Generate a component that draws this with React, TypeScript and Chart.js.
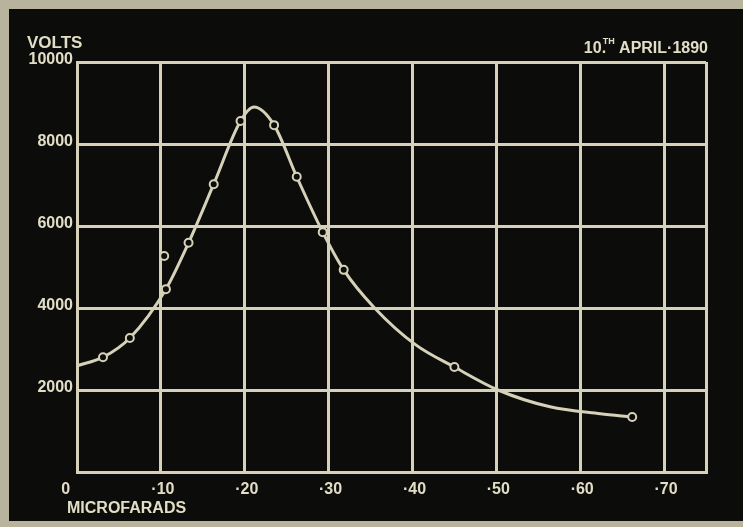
import React, { useEffect, useRef } from 'react';
import { Chart, registerables } from 'chart.js';

Chart.register(...registerables);

// Smooth hand-drawn curve (microfarads in hundredths, volts)
const curveX = [0, 3.1, 6.3, 10.6, 13.3, 16.3, 19.5, 21.1, 23.5, 26.2, 29.3, 31.8, 35.4, 40.4, 45, 50.2, 56.4, 62.4, 66.2];
const curveV = [2590, 2800, 3270, 4460, 5590, 7020, 8560, 8900, 8460, 7200, 5850, 4930, 4020, 3100, 2560, 2000, 1590, 1420, 1340];

// Observed points (small open circles)
const pointX = [3.1, 6.3, 10.6, 10.4, 13.3, 16.3, 19.5, 23.5, 26.2, 29.3, 31.8, 45, 66.2];
const pointV = [2800, 3270, 4460, 5270, 5590, 7020, 8560, 8460, 7200, 5850, 4930, 2560, 1340];

const xTicks = [0, 10, 20, 30, 40, 50, 60, 70, 75];
const xTickLabels = ['0\u2007\u2007\u2007', '·10', '·20', '·30', '·40', '·50', '·60', '·70', ''];
const yTicks = [0, 2000, 4000, 6000, 8000, 10000];
const yTickLabels = ['', '2000', '4000', '6000', '8000', '10000'];

const yTitle = 'VOLTS';
const xTitle = 'MICROFARADS';
const dateDay = '10';
const dateSup = 'TH';
const dateRest = ' APRIL·1890';

const FONT = '"Liberation Sans", Arial, sans-serif';
const INK = '#e2dec6';
const GRID = '#d6d2b9';
const BG = '#0c0c0a';

export default function App() {
  const ref = useRef<HTMLCanvasElement>(null);

  useEffect(() => {
    if (!ref.current) return;
    const framePlugin = {
      id: 'frame',
      beforeDraw(chart: any) {
        const ctx = chart.ctx;
        ctx.save();
        ctx.fillStyle = '#b7b39c';
        ctx.fillRect(0, 0, chart.width, chart.height);
        ctx.fillStyle = BG;
        ctx.fillRect(9, 9, chart.width - 9, chart.height - 15);
        ctx.restore();
      },
      afterDraw(chart: any) {
        const ctx = chart.ctx;
        ctx.save();
        ctx.fillStyle = INK;
        ctx.textBaseline = 'alphabetic';
        ctx.textAlign = 'left';
        ctx.font = `bold 17px ${FONT}`;
        ctx.fillText(yTitle, 27, 48);
        ctx.font = `bold 16px ${FONT}`;
        ctx.fillText(xTitle, 67, 513);
        // date
        ctx.font = `bold 16px ${FONT}`;
        const wDay = ctx.measureText(dateDay).width;
        const wRest = ctx.measureText(dateRest).width;
        ctx.font = `bold 9px ${FONT}`;
        const wSup = ctx.measureText(dateSup).width;
        const right = 708;
        const x0 = right - wRest - wSup - wDay - 1;
        ctx.font = `bold 16px ${FONT}`;
        ctx.fillText(dateDay, x0, 53);
        ctx.fillText('.', x0 + wDay, 53);
        ctx.font = `bold 9px ${FONT}`;
        ctx.fillText(dateSup, x0 + wDay + 1, 44);
        ctx.font = `bold 16px ${FONT}`;
        ctx.fillText(dateRest, x0 + wDay + wSup + 1, 53);
        ctx.restore();
      },
    };

    const chart = new Chart(ref.current, {
      type: 'scatter',
      data: {
        datasets: [
          {
            type: 'scatter',
            label: 'observations',
            data: pointX.map((x, i) => ({ x, y: pointV[i] })),
            pointRadius: 4,
            pointBorderWidth: 2,
            pointBorderColor: GRID,
            pointBackgroundColor: BG,
            order: 0,
          },
          {
            type: 'line',
            label: 'curve',
            data: curveX.map((x, i) => ({ x, y: curveV[i] })),
            borderColor: GRID,
            borderWidth: 3,
            pointRadius: 0,
            cubicInterpolationMode: 'monotone',
            fill: false,
            order: 1,
          } as any,
        ],
      },
      options: {
        animation: false,
        responsive: false,
        devicePixelRatio: 1,
        layout: { padding: { top: 62, right: 37, left: 0, bottom: 0 } },
        plugins: { legend: { display: false }, tooltip: { enabled: false }, title: { display: false } },
        scales: {
          x: {
            type: 'linear',
            min: 0,
            max: 75,
            afterBuildTicks: (s: any) => {
              s.ticks = xTicks.map((v) => ({ value: v }));
            },
            afterFit: (s: any) => {
              s.height = 55;
            },
            ticks: {
              autoSkip: false,
              maxRotation: 0,
              padding: 8,
              labelOffset: 2,
              color: INK,
              font: { family: FONT, size: 16, weight: 'bold' },
              callback: (v: any) => {
                const i = xTicks.indexOf(Number(v));
                return i >= 0 ? xTickLabels[i] : '';
              },
            },
            grid: { color: GRID, lineWidth: 3, drawTicks: false },
            border: { color: GRID, width: 3 },
          },
          y: {
            type: 'linear',
            min: 0,
            max: 10000,
            afterBuildTicks: (s: any) => {
              s.ticks = yTicks.map((v) => ({ value: v }));
            },
            afterFit: (s: any) => {
              s.width = 77;
            },
            ticks: {
              padding: 4,
              labelOffset: -2,
              color: INK,
              font: { family: FONT, size: 16, weight: 'bold' },
              callback: (v: any) => {
                const i = yTicks.indexOf(Number(v));
                return i >= 0 ? yTickLabels[i] : '';
              },
            },
            grid: { color: GRID, lineWidth: 3, drawTicks: false },
            border: { color: GRID, width: 3 },
          },
        },
      },
      plugins: [framePlugin],
    });
    return () => chart.destroy();
  }, []);

  return (
    <div style={{ position: 'fixed', left: 0, top: 0, width: 743, height: 527 }}>
      <canvas ref={ref} width={743} height={527} style={{ display: 'block' }} />
    </div>
  );
}
